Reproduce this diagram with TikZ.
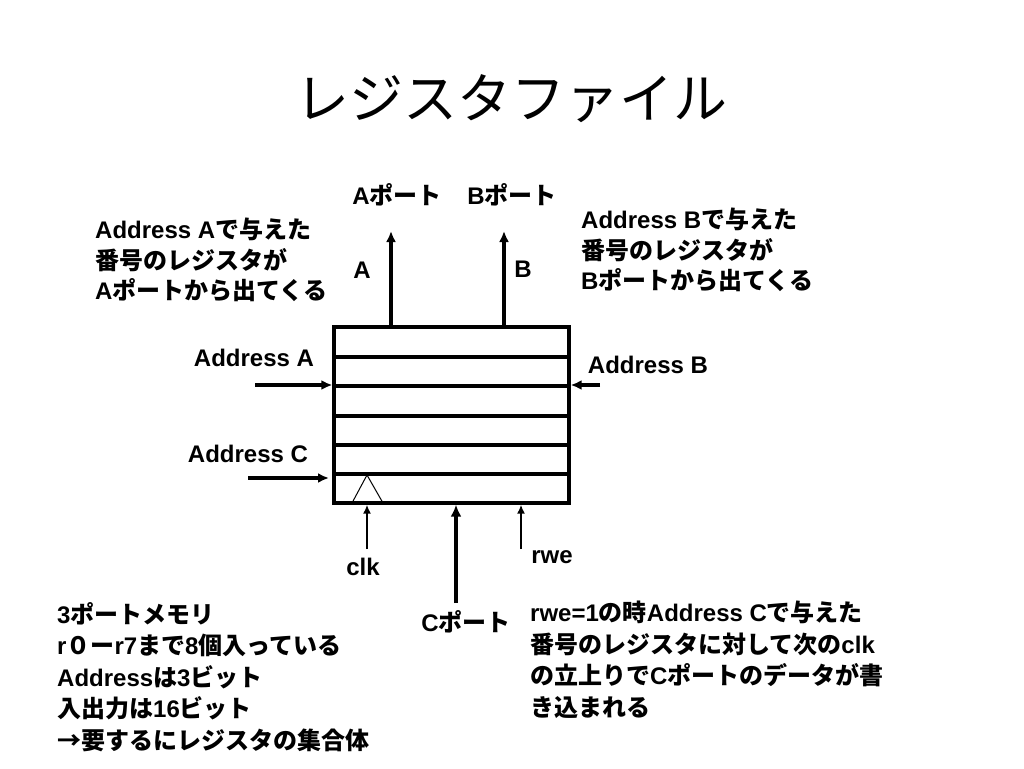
\documentclass[tikz,border=0pt]{standalone}
\usepackage{fontspec}
\setmainfont{Liberation Sans}
\newfontfamily\jp{Noto Sans CJK JP}
\usetikzlibrary{arrows.meta}
\newcommand\J[1]{{\jp #1}}
\begin{document}
\begin{tikzpicture}[x=1pt,y=-1pt,
  txt/.style={font=\bfseries\fontsize{24}{30.5}\selectfont, inner sep=0pt},
  para/.style={txt, align=left, anchor=north west},
  regline/.style={line width=3.3pt},
  bigarr/.style={line width=3.3pt, -{Latex[length=11pt,width=10pt]}},
  fatarr/.style={line width=4pt, -{Latex[length=12pt,width=11pt]}},
  thinarr/.style={line width=1.8pt, -{Latex[length=9pt,width=8pt]}}]
\useasboundingbox[fill=white] (0,0) rectangle (1024,768);

% title
\node[inner sep=0pt, font=\jp\fontsize{54}{62}\selectfont] (title) at (511,99) {レジスタファイル};

% register file block
\node[draw, regline, minimum width=235pt, minimum height=176pt, inner sep=0pt] (rf) at (451.5,415) {};
\foreach \yy in {357,386,416,445,474}
  \draw[regline] (334,\yy) -- (569,\yy);
\draw[line width=1pt] (352,503) -- (367,475) -- (383,503);

% output ports
\coordinate (Atip) at (391,231);
\coordinate (Btip) at (504,231);
\draw[bigarr] (rf.north -| Atip) -- (Atip);
\draw[bigarr] (rf.north -| Btip) -- (Btip);
\node[txt] (Aport) at (397,195) {A\J{ポート}};
\node[txt] (Bport) at (512,195) {B\J{ポート}};
\node[txt] (Alab) at (362,270) {A};
\node[txt] (Blab) at (523,269) {B};

% address inputs
\coordinate (addrA) at (255,385);
\coordinate (addrB) at (600,385);
\coordinate (addrC) at (248,478);
\coordinate (addrCend) at (329,478);
\draw[bigarr] (addrA) -- (addrA -| rf.west);
\draw[bigarr] (addrB) -- (addrB -| rf.east);
\draw[bigarr] (addrC) -- (addrCend);
\node[txt] (lA) at (254,358) {Address A};
\node[txt] (lB) at (648,365) {Address B};
\node[txt] (lC) at (248,454) {Address C};

% bottom inputs
\coordinate (clk) at (367,549);
\coordinate (cp) at (456,603);
\coordinate (rwe) at (521,549);
\draw[thinarr] (clk) -- (clk |- rf.south);
\draw[fatarr] (cp) -- (cp |- rf.south);
\draw[thinarr] (rwe) -- (rwe |- rf.south);
\node[txt] (lclk) at (363,567) {clk};
\node[txt] (lrwe) at (552,557) {rwe};
\node[txt] (lcp) at (466,622) {C\J{ポート}};

% explanations
\node[para] (noteA) at (95,218) {Address A\J{で与えた}\\\J{番号のレジスタが}\\A\J{ポートから出てくる}};
\node[para] (noteB) at (581,208) {Address B\J{で与えた}\\\J{番号のレジスタが}\\B\J{ポートから出てくる}};
\node[para, font=\bfseries\fontsize{24}{31.5}\selectfont] (noteL) at (57,602) {3\J{ポートメモリ}\\r\J{０ー}r7\J{まで}8\J{個入っている}\\Address\J{は}3\J{ビット}\\\J{入出力は}16\J{ビット}\\\J{→要するにレジスタの集合体}};
\node[para, font=\bfseries\fontsize{24}{31.5}\selectfont] (noteR) at (530,601) {rwe=1\J{の時}Address C\J{で与えた}\\\J{番号のレジスタに対して次の}clk\\\J{の立上りで}C\J{ポートのデータが書}\\\J{き込まれる}};
\end{tikzpicture}
\end{document}
